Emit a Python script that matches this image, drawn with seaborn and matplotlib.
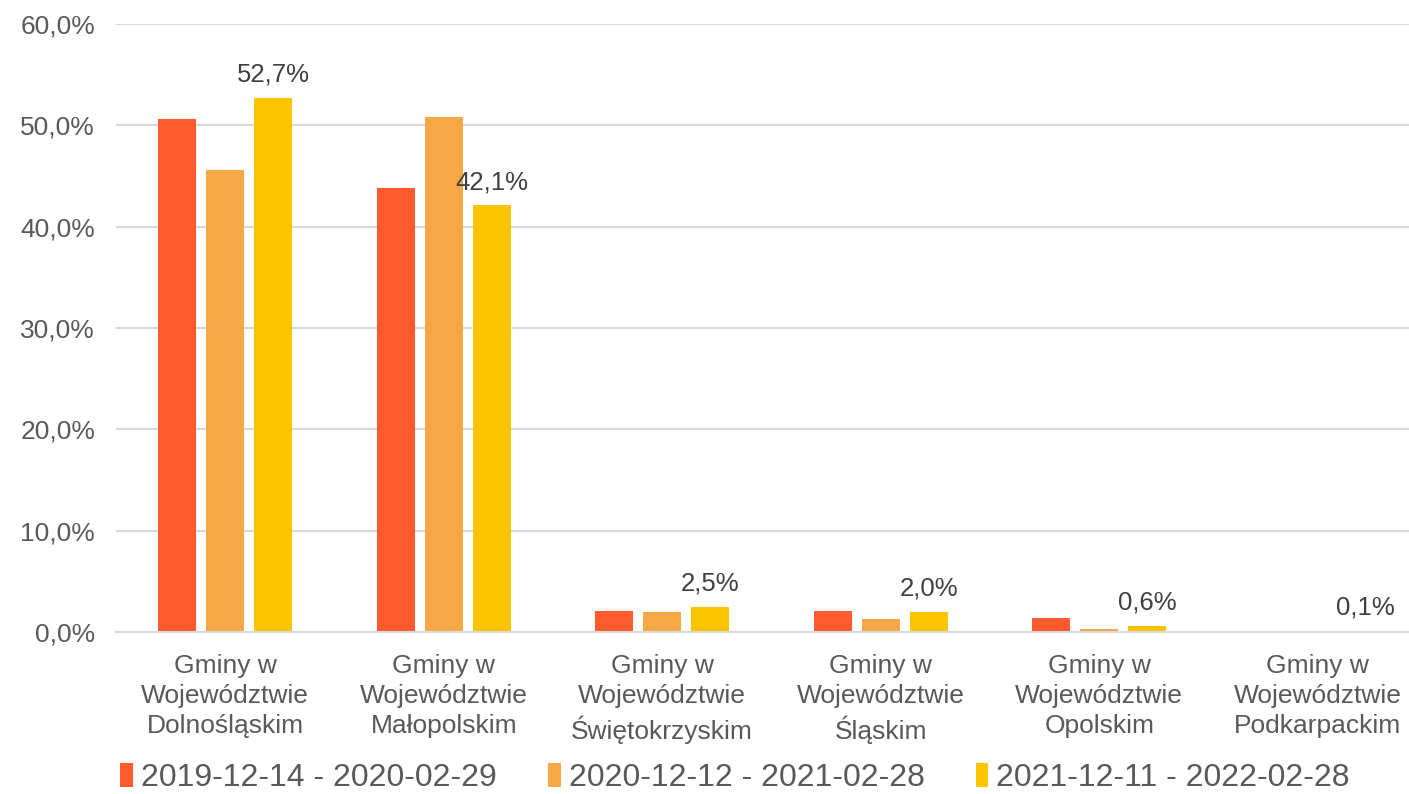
import pandas as pd
import matplotlib
matplotlib.use("Agg")
import matplotlib.pyplot as plt
import seaborn as sns

# dane (w %)
regions = [
    "Gminy w\nWojewództwie\nDolnośląskim",
    "Gminy w\nWojewództwie\nMałopolskim",
    "Gminy w\nWojewództwie\nŚwiętokrzyskim",
    "Gminy w\nWojewództwie\nŚląskim",
    "Gminy w\nWojewództwie\nOpolskim",
    "Gminy w\nWojewództwie\nPodkarpackim",
]
periods = ["2019-12-14 - 2020-02-29", "2020-12-12 - 2021-02-28", "2021-12-11 - 2022-02-28"]
s2020 = [50.6, 43.8, 2.1, 2.1, 1.35, 0.03]
s2021 = [45.6, 50.8, 2.0, 1.25, 0.3, 0.0]
s2022 = [52.7, 42.1, 2.5, 2.0, 0.6, 0.1]
colors = ["#FF5B2E", "#F6A846", "#FDC400"]

df = pd.DataFrame({
    "region": regions * 3,
    "period": [p for p in periods for _ in regions],
    "value": s2020 + s2021 + s2022,
})

sns.set_style("white")
plt.rcParams["font.family"] = ["Liberation Sans", "DejaVu Sans"]

fig = plt.figure(figsize=(14.09, 7.94), dpi=100)
ax = fig.add_axes([116 / 1409, 0.204, 1311 / 1409, 0.766])

sns.barplot(data=df, x="region", y="value", hue="period", palette=colors,
            width=0.66, gap=0.21, ax=ax, saturation=1, edgecolor="none")

# etykiety tylko dla ostatniego okresu
labels = [f"{v:.1f}%".replace(".", ",") for v in s2022]
ax.bar_label(ax.containers[2], labels=labels, padding=8, fontsize=18.5, color="#404040")

ax.set_xlim(-0.5, 5.5)
ax.set_ylim(0, 60)
ax.set_yticks(range(0, 61, 10))
ax.set_yticklabels([f"{t},0%" for t in range(0, 61, 10)])
ax.yaxis.grid(True, color="#d9d9d9", linewidth=1.5)
ax.set_axisbelow(True)
ax.tick_params(axis="both", length=0, labelsize=19, colors="#595959")
ax.tick_params(axis="x", pad=16)
ax.tick_params(axis="y", pad=15)
ax.set_xlabel("")
ax.set_ylabel("")
for lab in ax.get_xticklabels():
    lab.set_linespacing(1.32)
sns.despine(ax=ax, left=True)
ax.spines["bottom"].set_color("#d9d9d9")
ax.spines["bottom"].set_linewidth(1.5)

ax.legend(loc="center", bbox_to_anchor=(619 / 1311, -0.24), ncol=3, frameon=False,
          fontsize=23, handlelength=0.4, handleheight=0.75, handletextpad=0.25,
          columnspacing=1.6, labelcolor="#595959")

fig.savefig("out.png", dpi=100)
